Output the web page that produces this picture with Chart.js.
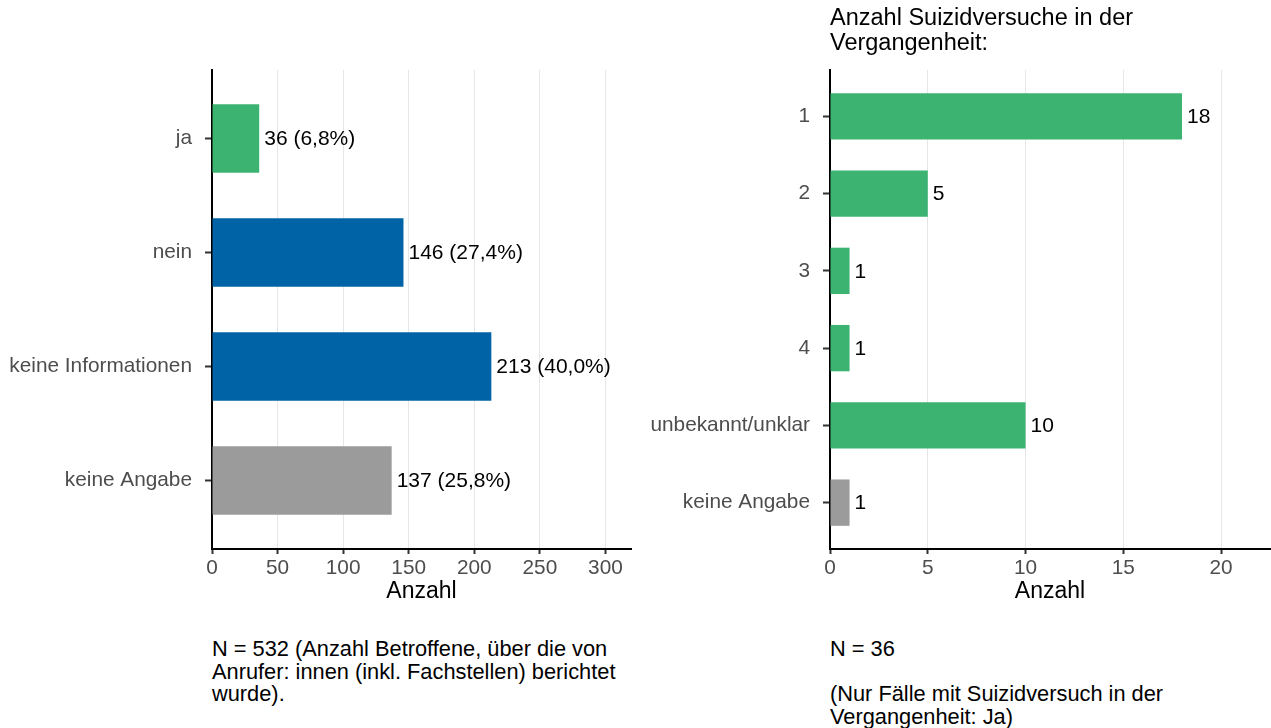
<!DOCTYPE html>
<html lang="de">
<head>
<meta charset="utf-8">
<script src="https://cdn.jsdelivr.net/npm/chart.js@4.4.1/dist/chart.umd.min.js"></script>
<style>
  body { margin: 0; background: #fff; width: 1271px; height: 728px; position: relative; overflow: hidden;
         font-family: 'Liberation Sans', Arial, sans-serif; }
  .box { position: absolute; top: 0; }
  #leftBox { left: 0; }
  #rightBox { left: 640px; }
  .txt { position: absolute; color: #000; white-space: nowrap; }
  #title { left: 830px; top: 5px; font-size: 23.5px; line-height: 25px; }
  .note { font-size: 21.8px; line-height: 22.5px; top: 638px; }
  #noteLeft { left: 212px; }
  #noteRight { left: 830px; }
</style>
</head>
<body>
<div class="box" id="leftBox"><canvas id="chartLeft" width="640" height="620"></canvas></div>
<div class="box" id="rightBox"><canvas id="chartRight" width="631" height="620"></canvas></div>
<div class="txt" id="title">Anzahl Suizidversuche in der<br>Vergangenheit:</div>
<div class="txt note" id="noteLeft">N = 532 (Anzahl Betroffene, über die von<br>Anrufer: innen (inkl. Fachstellen) berichtet<br>wurde).</div>
<div class="txt note" id="noteRight">N = 36<br>&nbsp;<br>(Nur Fälle mit Suizidversuch in der<br>Vergangenheit: Ja)</div>

<script>
// Left panel: Suizidversuch in der Vergangenheit
const leftCategories = ['ja', 'nein', 'keine Informationen', 'keine Angabe'];
const leftValues = [36, 146, 213, 137];
const leftColors = ['#3cb371', '#0063a6', '#0063a6', '#9b9b9b'];
const leftTicks = [0, 50, 100, 150, 200, 250, 300];

// Right panel: Anzahl Suizidversuche
const rightCategories = ['1', '2', '3', '4', 'unbekannt/unklar', 'keine Angabe'];
const rightValues = [18, 5, 1, 1, 10, 1];
const rightColors = ['#3cb371', '#3cb371', '#3cb371', '#3cb371', '#3cb371', '#9b9b9b'];
const rightTicks = [0, 5, 10, 15, 20];

const FONT = "'Liberation Sans', Arial, sans-serif";
const leftTotal = leftValues.reduce((a, b) => a + b, 0);

// draws the value text right of each bar
const barLabels = {
    id: 'barLabels',
    afterDatasetsDraw(chart, args, opts) {
        const ctx = chart.ctx;
        const meta = chart.getDatasetMeta(0);
        ctx.save();
        ctx.font = '21px ' + FONT;
        ctx.fillStyle = '#000';
        ctx.textAlign = 'left';
        ctx.textBaseline = 'middle';
        meta.data.forEach((bar, i) => {
            ctx.fillText(opts.format(i), bar.x + 5, bar.y + 1);
        });
        ctx.restore();
    }
};

function makeChart(canvasId, categories, values, colors, xTicks, xMax, yWidth, rightPad, format) {
    const ctx = document.getElementById(canvasId);
    return new Chart(ctx, {
        type: 'bar',
        data: {
            datasets: [{
                data: values.map((v, i) => ({ x: v, y: i })),
                backgroundColor: colors,
                borderWidth: 0,
                barPercentage: 0.6,
                categoryPercentage: 1
            }]
        },
        options: {
            indexAxis: 'y',
            responsive: false,
            animation: false,
            layout: { padding: { top: 70, right: rightPad, left: 0, bottom: 0 } },
            plugins: {
                legend: { display: false },
                tooltip: { enabled: false },
                barLabels: { format: format }
            },
            scales: {
                x: {
                    type: 'linear',
                    min: 0,
                    max: xMax,
                    afterFit: (s) => { s.height = 71; },
                    afterBuildTicks: (axis) => {
                        axis.ticks = xTicks.map(v => ({ value: v }));
                    },
                    ticks: {
                        color: '#4d4d4d',
                        font: { family: FONT, size: 20.8 },
                        padding: 2,
                        maxRotation: 0,
                        autoSkip: false
                    },
                    grid: {
                        color: '#e6e6e6',
                        lineWidth: 1,
                        tickColor: '#333',
                        tickWidth: 2,
                        tickLength: 5
                    },
                    border: { display: true, color: '#000', width: 2 },
                    title: {
                        display: true,
                        text: 'Anzahl',
                        color: '#000',
                        font: { family: FONT, size: 23 },
                        padding: { top: 0, bottom: 15 }
                    }
                },
                y: {
                    type: 'linear',
                    reverse: true,
                    offset: false,
                    min: -0.6,
                    max: categories.length - 0.4,
                    z: 1,
                    afterFit: (s) => { s.width = yWidth; },
                    afterBuildTicks: (axis) => {
                        axis.ticks = categories.map((c, i) => ({ value: i }));
                    },
                    ticks: {
                        callback: (v) => categories[v],
                        color: '#4d4d4d',
                        font: { family: FONT, size: 20.8 },
                        padding: 13,
                        autoSkip: false
                    },
                    grid: {
                        offset: false,
                        drawOnChartArea: false,
                        tickColor: '#333',
                        tickWidth: 2,
                        tickLength: 7
                    },
                    border: { display: true, color: '#000', width: 2 }
                }
            }
        },
        plugins: [barLabels]
    });
}

makeChart('chartLeft', leftCategories, leftValues, leftColors, leftTicks, 319.5, 212, 9,
    (i) => leftValues[i] + ' (' + (leftValues[i] / leftTotal * 100).toFixed(1).replace('.', ',') + '%)');

makeChart('chartRight', rightCategories, rightValues, rightColors, rightTicks, 22.5, 190, 1,
    (i) => String(rightValues[i]));
</script>
</body>
</html>
